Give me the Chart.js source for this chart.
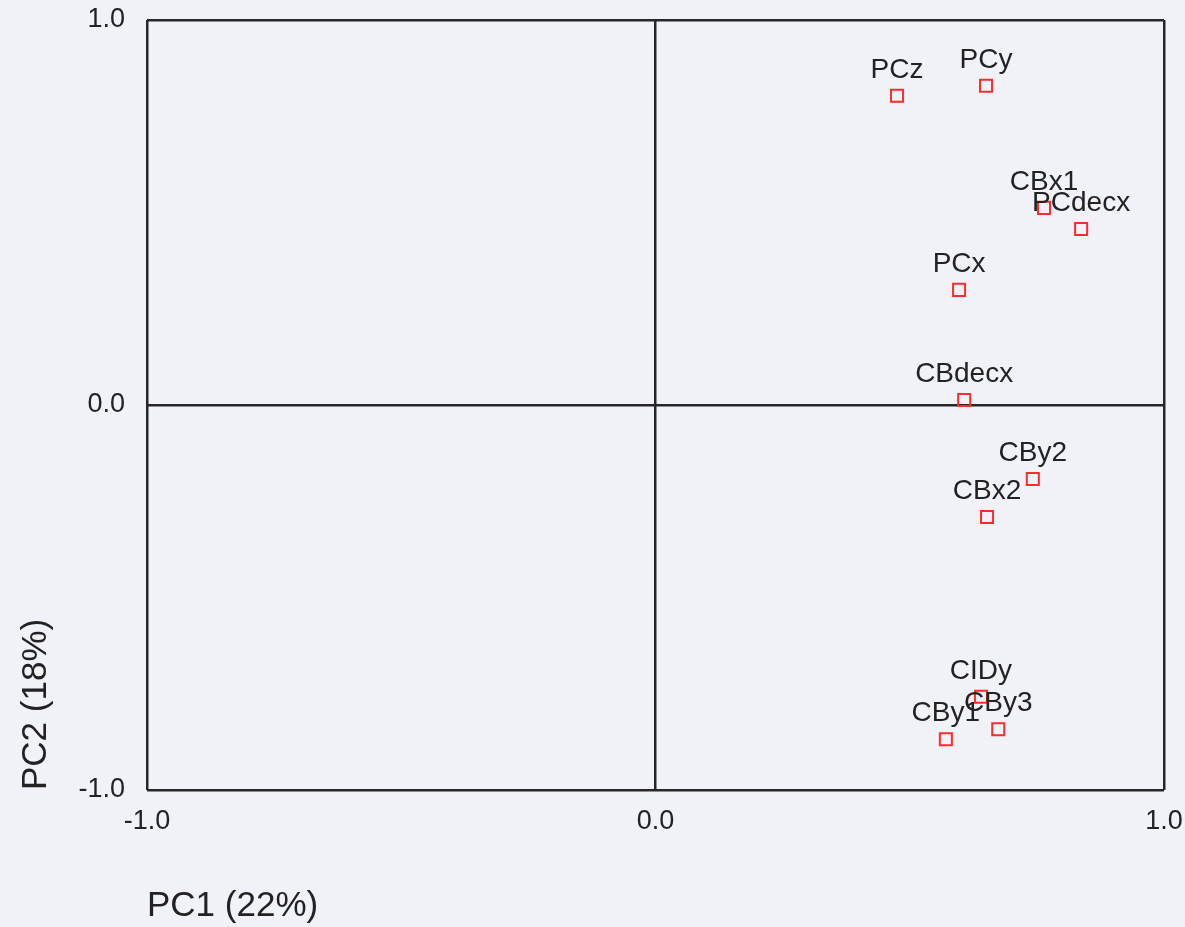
<!DOCTYPE html>
<html>
<head>
<meta charset="utf-8">
<script src="https://cdn.jsdelivr.net/npm/chart.js@4"></script>
<style>
  html, body { margin: 0; padding: 0; background: #f1f2f8; }
  #wrap { width: 1185px; height: 927px; position: relative; }
</style>
</head>
<body>
<div id="wrap"><canvas id="pcaPlot"></canvas></div>
<script>
// PCA loadings
const names = ['PCz', 'PCy', 'CBx1', 'PCdecx', 'PCx', 'CBdecx', 'CBy2', 'CBx2', 'CIDy', 'CBy3', 'CBy1'];
const pc1 = [0.475, 0.650, 0.764, 0.837, 0.597, 0.607, 0.742, 0.652, 0.640, 0.674, 0.571];
const pc2 = [0.803, 0.829, 0.512, 0.457, 0.299, 0.013, -0.192, -0.291, -0.758, -0.842, -0.868];
const axisTicks = [-1, 0, 1];

const ink = '#222';
const fontFamily = '"Liberation Sans", Arial, sans-serif';

// write the variable name above each point
const pointLabels = {
  id: 'pointLabels',
  afterDatasetsDraw(chart) {
    const ctx = chart.ctx;
    const meta = chart.getDatasetMeta(0);
    ctx.save();
    ctx.font = '28px ' + fontFamily;
    ctx.fillStyle = ink;
    ctx.textAlign = 'center';
    ctx.textBaseline = 'alphabetic';
    meta.data.forEach((pt, i) => {
      ctx.fillText(names[i], pt.x, pt.y - 18);
    });
    ctx.restore();
  }
};

function lineAt(ctx) {
  return axisTicks.includes(ctx.tick.value) ? '#262626' : 'rgba(0,0,0,0)';
}

new Chart(document.getElementById('pcaPlot'), {
  type: 'scatter',
  data: {
    datasets: [{
      data: pc1.map((x, i) => ({ x: x, y: pc2[i] })),
      pointStyle: 'rect',
      pointRadius: 8.5,
      pointBorderWidth: 2,
      pointBorderColor: '#ff2a2a',
      pointBackgroundColor: 'rgba(0,0,0,0)'
    }]
  },
  options: {
    responsive: true,
    maintainAspectRatio: false,
    animation: false,
    layout: { padding: { top: 20, right: 21, left: 0, bottom: 0 } },
    plugins: {
      legend: { display: false },
      tooltip: { enabled: false }
    },
    scales: {
      x: {
        type: 'linear',
        min: -1, max: 1,
        afterBuildTicks: axis => { axis.ticks = axisTicks.map(v => ({ value: v })); },
        afterFit: axis => {
          axis.height = 137;
          axis.paddingLeft = 0;
          axis.paddingRight = 0;
        },
        border: { display: false },
        grid: { color: lineAt, lineWidth: 2.5, drawTicks: false },
        ticks: {
          padding: 15,
          color: ink,
          font: { family: fontFamily, size: 27 },
          maxRotation: 0,
          callback: v => v.toFixed(1)
        },
        title: {
          display: true,
          text: 'PC1 (22%)',
          align: 'start',
          color: ink,
          font: { family: fontFamily, size: 35 },
          padding: 0
        }
      },
      y: {
        type: 'linear',
        min: -1, max: 1,
        afterBuildTicks: axis => { axis.ticks = axisTicks.map(v => ({ value: v })); },
        afterFit: axis => {
          axis.width = 147;
          axis.paddingTop = 0;
          axis.paddingBottom = 0;
        },
        border: { display: false },
        grid: { color: lineAt, lineWidth: 2.5, drawTicks: false },
        ticks: {
          padding: 22,
          color: ink,
          font: { family: fontFamily, size: 27 },
          callback: v => v.toFixed(1)
        },
        title: {
          display: true,
          text: 'PC2 (18%)',
          align: 'start',
          color: ink,
          font: { family: fontFamily, size: 35 },
          padding: { top: 15, bottom: 0 }
        }
      }
    }
  },
  plugins: [pointLabels]
});
</script>
</body>
</html>
